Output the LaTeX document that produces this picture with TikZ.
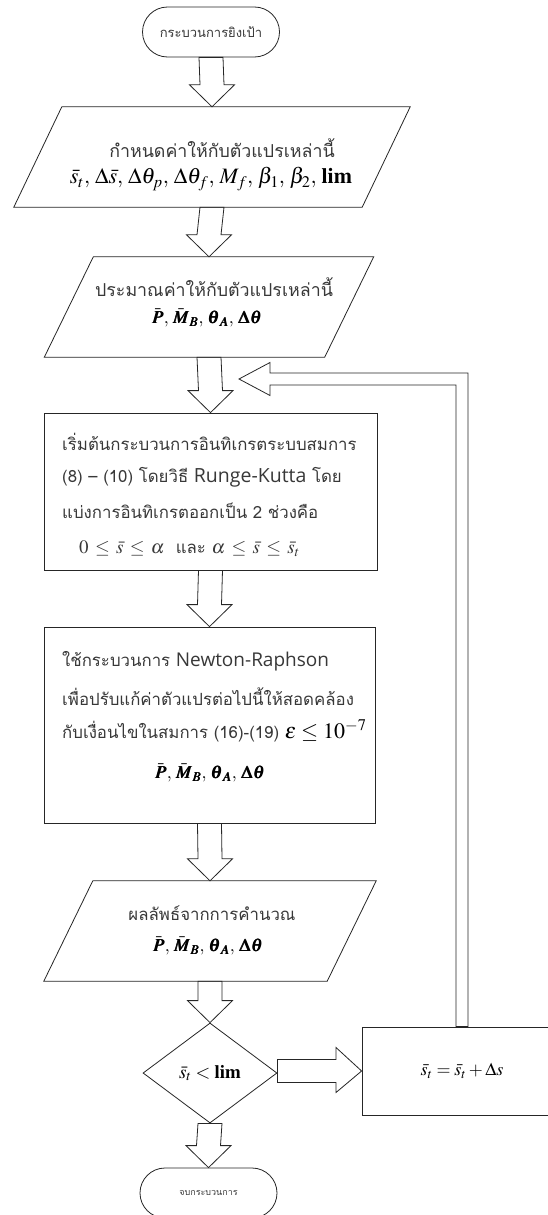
\documentclass[tikz,border=0pt]{standalone}
\usepackage{mathptmx}
\usepackage{bm}
\usepackage{fontspec}
\setmainfont{Liberation Serif}
\newfontfamily\thai[Script=Thai]{Loma}
\newfontfamily\osans{Open Sans}
\usetikzlibrary{calc,shapes.geometric}
\definecolor{txtgray}{HTML}{383838}
\tikzset{
  line/.style={draw=black!85, line width=0.8pt, line join=miter},
  term/.style={line, rounded corners=25pt, minimum width=137pt, minimum height=50pt, inner sep=0pt, text=txtgray},
  pmid/.style={inner sep=0pt, minimum height=100pt},
  proc/.style={line, inner sep=0pt},
  dec/.style={line, diamond, inner sep=0pt, minimum width=134pt, minimum height=100pt, aspect=1.34},
  th/.style={inner sep=0pt, text=txtgray, font=\thai\fontsize{16.8}{20}\selectfont},
  thbig/.style={th, font=\thai\fontsize{17.8}{21}\selectfont},
  mth/.style={inner sep=0pt, font=\fontsize{20}{24}\selectfont},
}
\newcommand\sep{{,}\;}
% vertical block arrow from (#1) down to tip (#2)
\newcommand\blockdown[2]{%
  \draw[line] ($(#1)+(-12,0)$) -- ($(#2)+(-12,-22)$) -- ($(#2)+(-22.5,-22)$) -- (#2)
    -- ($(#2)+(22.5,-22)$) -- ($(#2)+(12,-22)$) -- ($(#1)+(12,0)$) -- cycle;}
\newcommand\parallelo[2]{%
  \draw[line] ([xshift=#2]#1.north west) -- ([xshift=#2]#1.north east)
    -- ([xshift=-#2]#1.south east) -- ([xshift=-#2]#1.south west) -- cycle;}
\begin{document}
\begin{tikzpicture}[x=1pt,y=-1pt]
\useasboundingbox (0,0) rectangle (548,1215);
\clip (0,0) rectangle (548,1215);
\fill[white] (0,0) rectangle (548,1215);

% shapes
\node[term, font=\thai\fontsize{13}{15}\selectfont] (start) at (211,32) {กระบวนการยิงเป้า};

\node[pmid, minimum width=348pt] (p1) at (212,157) {};
\parallelo{p1}{24pt}
\node[thbig] (p1a) at (222,148) {กำหนดค่าให้กับตัวแปรเหล่านี้};
\node[mth, font=\fontsize{22}{25}\selectfont] (p1b) at (211,179) {$\bar{s}_t\sep\Delta\bar{s}\sep\Delta\theta_p\sep\Delta\theta_f\sep M_f\sep\beta_1\sep\beta_2\sep\mathbf{lim}$};

\node[pmid, minimum width=280pt] (p2) at (209,307) {};
\parallelo{p2}{24.5pt}
\node[thbig] (p2a) at (214,287) {ประมาณค่าให้กับตัวแปรเหล่านี้};
\node[mth, font=\fontsize{18}{22}\selectfont] (p2b) at (207,318) {$\bm{\bar{P}\sep\bar{M}_B\sep\theta_A\sep\Delta\theta}$};

\node[proc, minimum width=333pt, minimum height=157pt] (b3) at (210.5,491.5) {};
\node[th, anchor=west] (b3a) at (62,442) {เริ่มต้นกระบวนการอินทิเกรตระบบสมการ};
\node[th, anchor=west] (b3b) at (62,477) {(8) – (10) โดยวิธี {\osans\fontsize{19.5}{22}\selectfont Runge-Kutta} โดย};
\node[th, anchor=west] (b3c) at (62,511) {แบ่งการอินทิเกรตออกเป็น 2 ช่วงคือ};
\node[th, anchor=west] (b3d) at (79,549) {{\rmfamily\fontsize{19}{22}\selectfont$0\mathrel{\,\le\,}\bar{s}\mathrel{\,\le\,}\alpha$}\ \ และ {\rmfamily\fontsize{19}{22}\selectfont$\alpha\mathrel{\,\le\,}\bar{s}\mathrel{\,\le\,}\bar{s}_t$}};

\node[proc, minimum width=331pt, minimum height=196pt] (b4) at (209.5,725) {};
\node[th, anchor=west] (b4a) at (62,661) {ใช้กระบวนการ {\osans\fontsize{19}{22}\selectfont Newton-Raphson}};
\node[th, anchor=west] (b4b) at (62,697) {เพื่อปรับแก้ค่าตัวแปรต่อไปนี้ให้สอดคล้อง};
\node[th, anchor=west] (b4c) at (62,731) {กับเงื่อนไขในสมการ (16)-(19) {\color{black}\fontsize{22}{24}\selectfont$\varepsilon\le10^{-7}$}};
\node[mth, font=\fontsize{18}{22}\selectfont] (b4d) at (210,773) {$\bm{\bar{P}\sep\bar{M}_B\sep\theta_A\sep\Delta\theta}$};

\node[pmid, minimum width=283pt] (p5) at (210,931) {};
\parallelo{p5}{24.5pt}
\node[th] (p5a) at (212,913) {ผลลัพธ์จากการคำนวณ};
\node[mth, font=\fontsize{18}{22}\selectfont] (p5b) at (208,946) {$\bm{\bar{P}\sep\bar{M}_B\sep\theta_A\sep\Delta\theta}$};

\node[dec, font=\fontsize{19}{22}\selectfont] (d) at (210,1073) {$\bar{s}_t<\mathbf{lim}$};

\node[proc, minimum width=200pt, minimum height=88pt, font=\fontsize{18}{22}\selectfont] (bs) at (462,1071) {$\bar{s}_t=\bar{s}_t+\Delta s$};

\node[term, font=\thai\fontsize{9}{11}\selectfont] (end) at (208.5,1193) {จบกระบวนการ};

% connectors
\blockdown{start.south}{p1.north}
\blockdown{p1.south}{p2.north}
\blockdown{p2.south}{b3.north}
\blockdown{b3.south}{b4.north}
\blockdown{b4.south}{p5.north}
\blockdown{p5.south}{d.north}
\blockdown{d.south}{end.north}

% diamond -> right box
\draw[line] (d.east |- 0,1059.5) -- (336,1059.5) -- (336,1047.5) -- (bs.west) -- (336,1092.5)
  -- (336,1082.5) -- (d.east |- 0,1082.5) -- cycle;

% feedback arrow
\coordinate (fbR) at ($(bs.north)+(6,0)$);
\coordinate (fbL) at ($(bs.north)+(-6,0)$);
\coordinate (fbtip) at (239,379);
\draw[line] (fbR) -- (fbR |- 0,373) -- (270,373) -- (270,362.5)
  -- (fbtip) -- (270,395.5) -- (270,385) -- (fbL |- 0,385)
  -- (fbL) -- cycle;
\end{tikzpicture}
\end{document}
